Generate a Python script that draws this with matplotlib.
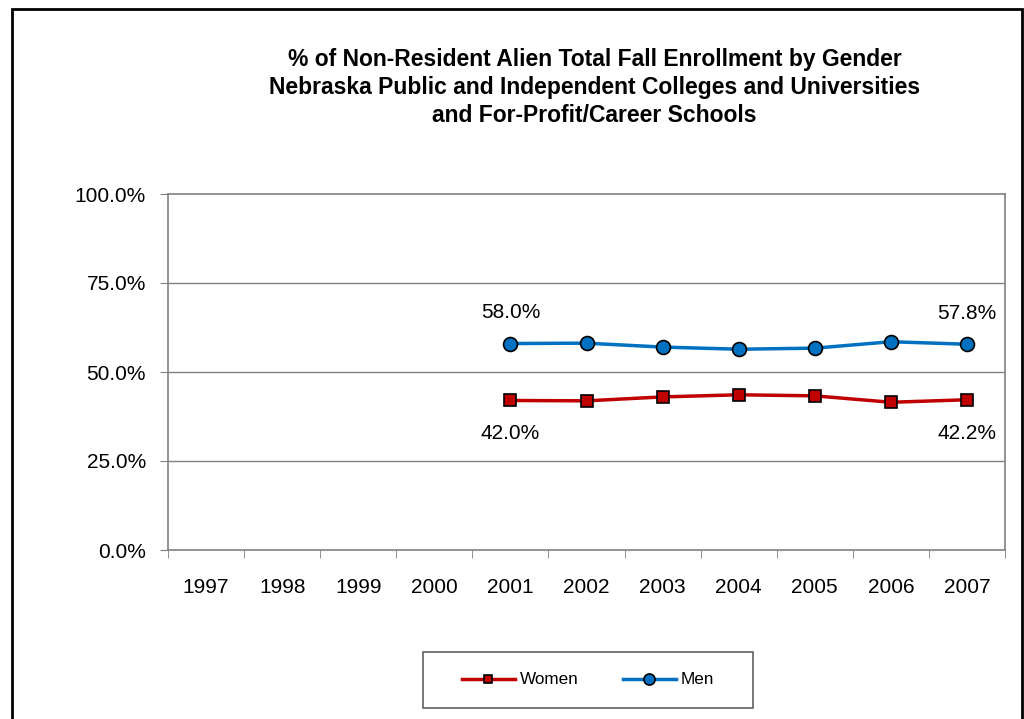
import matplotlib
matplotlib.use("Agg")
import matplotlib.pyplot as plt
from matplotlib.patches import Rectangle

plt.rcParams['font.family'] = ['Liberation Sans', 'DejaVu Sans']

years = ['1997', '1998', '1999', '2000', '2001', '2002', '2003', '2004', '2005', '2006', '2007']
data_years = ['2001', '2002', '2003', '2004', '2005', '2006', '2007']
women = [42.0, 41.9, 43.0, 43.6, 43.3, 41.5, 42.2]
men = [58.0, 58.1, 57.0, 56.4, 56.7, 58.5, 57.8]
yticks = [0, 25, 50, 75, 100]

W, H = 1024, 719
fig = plt.figure(figsize=(W/100, H/100), dpi=100)
fig.patches.append(Rectangle((11.5/W, -0.05), (1021.5-11.5)/W, 1.05 - 9/H,
                             transform=fig.transFigure, fill=False,
                             edgecolor='black', linewidth=2))

ax = fig.add_axes([168/W, 1-550/H, (1005-168)/W, (550-194)/H])
ax.set_xlim(0, len(years))
ax.set_ylim(0, 100)

xpos = [years.index(y) + 0.5 for y in data_years]
ax.plot(xpos, women, color='#C00000', linewidth=2.5, marker='s', markersize=8,
        markerfacecolor='#C00000', markeredgecolor='black', markeredgewidth=1.2,
        label='Women', zorder=3)
ax.plot(xpos, men, color='#0070C0', linewidth=2.5, marker='o', markersize=10,
        markerfacecolor='#0070C0', markeredgecolor='black', markeredgewidth=1.2,
        label='Men', zorder=3)

for i in (0, len(xpos)-1):
    ax.annotate(f'{men[i]:.1f}%', (xpos[i], men[i]), xytext=(0, 22),
                textcoords='offset points', ha='center', va='center', fontsize=15)
    ax.annotate(f'{women[i]:.1f}%', (xpos[i], women[i]), xytext=(0, -24),
                textcoords='offset points', ha='center', va='center', fontsize=15)

ax.set_yticks(yticks)
ax.set_yticklabels([f'{v:.1f}%' for v in yticks], fontsize=15)
ax.set_xticks([i + 0.5 for i in range(len(years))])
ax.set_xticklabels(years, fontsize=15)
ax.set_xticks(range(len(years) + 1), minor=True)
ax.tick_params(axis='x', which='major', length=0, pad=20)
ax.tick_params(axis='x', which='minor', length=6, direction='out', color='#808080')
ax.tick_params(axis='y', length=6, direction='out', color='#808080', pad=10)
for v in yticks[1:-1]:
    ax.axhline(v, color='#808080', linewidth=1, zorder=1)
for s in ax.spines.values():
    s.set_color('#808080')
    s.set_linewidth(1.2)

fig.text(594.5/W, 1-87.5/H,
         '% of Non-Resident Alien Total Fall Enrollment by Gender\n'
         'Nebraska Public and Independent Colleges and Universities\n'
         'and For-Profit/Career Schools',
         ha='center', va='center', fontsize=16.5, fontweight='bold', linespacing=1.3)

fig.patches.append(Rectangle((423/W, 1-708/H), (753-423)/W, (708-652)/H,
                             transform=fig.transFigure, fill=False,
                             edgecolor='#606060', linewidth=1.2))
leg = fig.legend(loc='center', bbox_to_anchor=((423+753)/2/W, 1-680/H),
                 ncol=2, fontsize=12.3, frameon=False,
                 handlelength=3.1, columnspacing=2.6,
                 handletextpad=0.3, markerscale=0.8, borderaxespad=0)

fig.savefig('out.png', dpi=100)
